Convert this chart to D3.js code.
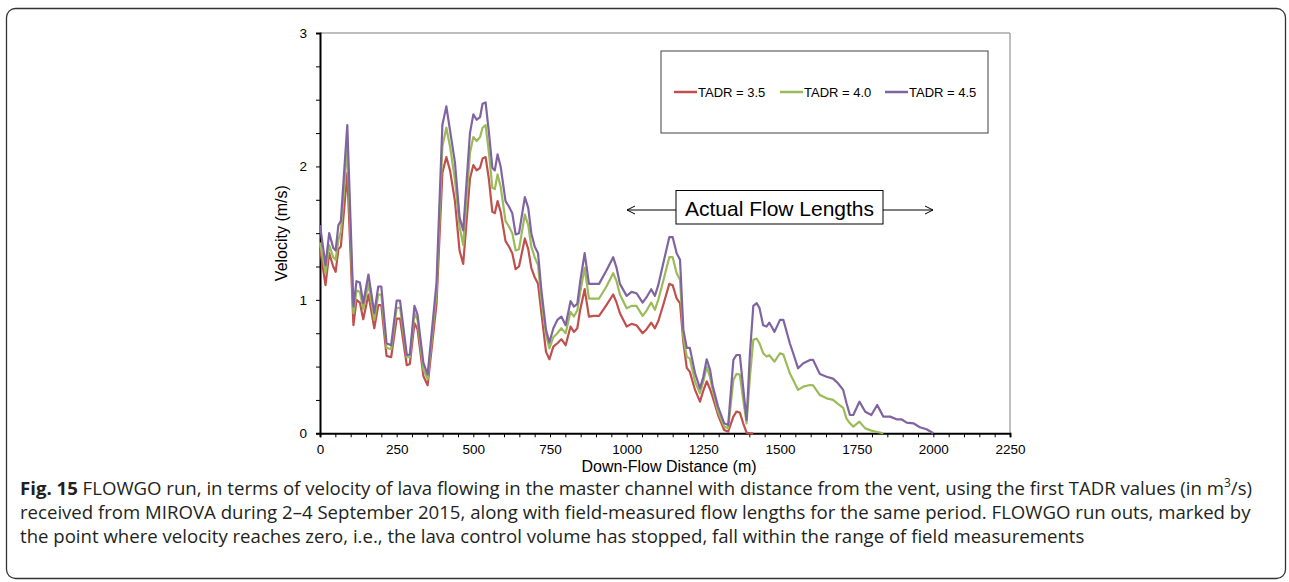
<!DOCTYPE html>
<html>
<head>
<meta charset="utf-8">
<script src="https://cdn.jsdelivr.net/npm/d3@7/dist/d3.min.js"></script>
<style>
  body { margin: 0; background: #fff; }
  svg { display: block; }
</style>
</head>
<body>
<svg id="chart" width="1289" height="582"></svg>
<script>
// distance down the master channel (m)
const distance = [
  0, 18, 30, 43, 51, 60, 68, 89, 109, 119, 130, 141, 158, 177, 190, 200, 217, 232, 250, 261,
  283, 293, 308, 318, 337, 351, 380, 399, 412, 424, 440, 455, 467, 489, 500, 511, 522, 530, 540, 551,
  562, 570, 579, 589, 605, 616, 627, 638, 649, 668, 679, 689, 700, 711, 722, 737, 748, 761, 774, 787,
  801, 817, 828, 839, 848, 863, 877, 893, 910, 934, 956, 967, 978, 1000, 1016, 1032, 1052, 1065, 1080, 1092,
  1103, 1119, 1139, 1150, 1163, 1174, 1185, 1196, 1206, 1223, 1239, 1250, 1261, 1272, 1280, 1298, 1318, 1331, 1348, 1358,
  1369, 1380, 1391, 1402, 1413, 1424, 1433, 1445, 1456, 1465, 1482, 1500, 1511, 1532, 1543, 1559, 1576, 1598, 1608, 1630,
  1652, 1673, 1689, 1706, 1717, 1728, 1739, 1759, 1778, 1798, 1817, 1837, 1859, 1880, 1896, 1913, 1935, 1956, 1978, 2000
];

// velocity (m/s) for each TADR run, null once the flow has stopped
const tadr35 = [
  1.39, 1.11, 1.35, 1.25, 1.21, 1.38, 1.40, 1.95, 0.81, 1.00, 0.98, 0.855, 1.04, 0.787, 0.96, 0.96, 0.58, 0.57, 0.86, 0.86,
  0.51, 0.52, 0.825, 0.78, 0.43, 0.36, 0.97, 1.95, 2.07, 1.97, 1.74, 1.37, 1.27, 1.91, 2.01, 1.97, 1.99, 2.06, 2.07, 1.90,
  1.66, 1.65, 1.74, 1.66, 1.44, 1.40, 1.35, 1.23, 1.25, 1.46, 1.38, 1.24, 1.17, 1.12, 0.90, 0.61, 0.555, 0.65, 0.675, 0.705,
  0.66, 0.80, 0.76, 0.787, 0.92, 1.08, 0.875, 0.88, 0.88, 0.96, 1.04, 0.98, 0.90, 0.80, 0.82, 0.81, 0.75, 0.78, 0.83, 0.787,
  0.84, 0.96, 1.12, 1.11, 1.01, 0.975, 0.68, 0.49, 0.46, 0.325, 0.237, 0.32, 0.39, 0.33, 0.275, 0.137, 0.025, 0.012, 0.125, 0.162,
  0.155, 0.075, 0.005, 0, 0, null, null, null, null, null, null, null, null, null, null, null, null, null, null, null,
  null, null, null, null, null, null, null, null, null, null, null, null, null, null, null, null, null, null, null, null
];
const tadr40 = [
  1.43, 1.20, 1.41, 1.32, 1.30, 1.45, 1.51, 2.15, 0.90, 1.07, 1.06, 0.93, 1.12, 0.85, 1.04, 1.04, 0.64, 0.63, 0.94, 0.94,
  0.57, 0.57, 0.90, 0.85, 0.48, 0.405, 1.06, 2.15, 2.29, 2.15, 1.90, 1.55, 1.41, 2.10, 2.22, 2.19, 2.22, 2.29, 2.31, 2.10,
  1.84, 1.83, 1.94, 1.85, 1.59, 1.55, 1.50, 1.37, 1.38, 1.64, 1.56, 1.40, 1.32, 1.26, 1.00, 0.737, 0.637, 0.72, 0.75, 0.787,
  0.75, 0.91, 0.875, 0.92, 1.05, 1.24, 1.01, 1.01, 1.01, 1.10, 1.20, 1.14, 1.04, 0.937, 0.955, 0.955, 0.88, 0.92, 0.98, 0.925,
  1.00, 1.14, 1.32, 1.32, 1.20, 1.15, 0.72, 0.575, 0.56, 0.387, 0.30, 0.39, 0.50, 0.42, 0.33, 0.162, 0.05, 0.037, 0.40, 0.445,
  0.44, 0.25, 0.075, 0.424, 0.70, 0.71, 0.675, 0.60, 0.575, 0.585, 0.537, 0.60, 0.59, 0.45, 0.40, 0.325, 0.35, 0.362, 0.36, 0.287,
  0.262, 0.25, 0.22, 0.19, 0.11, 0.075, 0.05, 0.087, 0.037, 0.02, 0.01, 0, null, null, null, null, null, null, null, null
];
const tadr45 = [
  1.56, 1.26, 1.50, 1.39, 1.37, 1.56, 1.59, 2.31, 0.95, 1.14, 1.13, 0.975, 1.19, 0.90, 1.10, 1.10, 0.675, 0.66, 0.995, 0.995,
  0.587, 0.59, 0.955, 0.89, 0.53, 0.44, 1.13, 2.31, 2.45, 2.27, 2.03, 1.62, 1.52, 2.25, 2.39, 2.35, 2.37, 2.47, 2.48, 2.25,
  1.99, 1.97, 2.09, 2.00, 1.74, 1.70, 1.65, 1.49, 1.50, 1.77, 1.69, 1.50, 1.40, 1.35, 1.07, 0.775, 0.68, 0.787, 0.85, 0.875,
  0.81, 0.99, 0.95, 0.97, 1.13, 1.35, 1.12, 1.12, 1.12, 1.22, 1.32, 1.24, 1.12, 1.03, 1.06, 1.05, 0.98, 1.02, 1.08, 1.03,
  1.11, 1.27, 1.47, 1.47, 1.35, 1.30, 0.775, 0.64, 0.64, 0.45, 0.337, 0.424, 0.555, 0.475, 0.36, 0.20, 0.075, 0.062, 0.55, 0.587,
  0.587, 0.34, 0.10, 0.60, 0.955, 0.975, 0.94, 0.81, 0.80, 0.83, 0.76, 0.85, 0.85, 0.675, 0.60, 0.487, 0.525, 0.55, 0.55, 0.445,
  0.424, 0.41, 0.375, 0.325, 0.225, 0.137, 0.137, 0.237, 0.162, 0.137, 0.212, 0.125, 0.125, 0.105, 0.105, 0.08, 0.075, 0.045, 0.03, 0
];

const seriesNames = ["TADR = 3.5", "TADR = 4.0", "TADR = 4.5"];
const seriesValues = [tadr35, tadr40, tadr45];
const seriesColors = ["#c0504d", "#9bbb59", "#8064a2"];

const xTickValues = d3.range(0, 2251, 50);
const yTickValues = d3.range(0, 3.01, 0.25);

const captionLines = [
  [["Fig. 15", "bold"], [" FLOWGO run, in terms of velocity of lava flowing in the master channel with distance from the vent, using the first TADR values (in m", "normal"], ["3", "sup"], ["/s)", "normal"]],
  [["received from MIROVA during 2\u20134 September 2015, along with field-measured flow lengths for the same period. FLOWGO run outs, marked by", "normal"]],
  [["the point where velocity reaches zero, i.e., the lava control volume has stopped, fall within the range of field measurements", "normal"]]
];

const svg = d3.select("#chart");
const plotLeft = 320, plotRight = 1010, plotTop = 33, plotBottom = 433.3;

// outer figure frame
svg.append("rect")
  .attr("x", 6.5).attr("y", 8.5)
  .attr("width", 1279).attr("height", 570)
  .attr("rx", 9)
  .attr("fill", "none")
  .attr("stroke", "#333")
  .attr("stroke-width", 1.3);

const x = d3.scaleLinear().domain([0, 2250]).range([plotLeft, plotRight]);
const y = d3.scaleLinear().domain([0, 3]).range([plotBottom, plotTop]);

// plot area border (top / right)
svg.append("path")
  .attr("d", `M${plotLeft},${plotTop}H${plotRight}V${plotBottom}`)
  .attr("fill", "none")
  .attr("stroke", "#7f7f7f")
  .attr("stroke-width", 1);

const tickFont = "'Liberation Sans', Arial, sans-serif";

const xAxis = svg.append("g")
  .attr("transform", `translate(0,${plotBottom})`)
  .call(
    d3.axisBottom(x)
      .tickValues(xTickValues)
      .tickSize(4)
      .tickPadding(7)
      .tickFormat((d) => (d % 250 === 0 ? d : ""))
  );

const yAxis = svg.append("g")
  .attr("transform", `translate(${plotLeft},0)`)
  .call(
    d3.axisLeft(y)
      .tickValues(yTickValues)
      .tickSize(4)
      .tickPadding(9)
      .tickFormat((d) => (Number.isInteger(d) ? d : ""))
  );

[xAxis, yAxis].forEach((g) => {
  g.select(".domain").attr("stroke", "#000").attr("stroke-width", 2);
  g.selectAll(".tick line").attr("stroke", "#000").attr("stroke-width", 1);
  g.selectAll(".tick text")
    .attr("fill", "#000")
    .style("font-family", tickFont)
    .style("font-size", "13.5px");
});

// axis titles
svg.append("text")
  .attr("x", 669)
  .attr("y", 471.5)
  .attr("text-anchor", "middle")
  .style("font-family", tickFont)
  .style("font-size", "16px")
  .text("Down-Flow Distance (m)");

svg.append("text")
  .attr("transform", `translate(287,${(plotTop + plotBottom) / 2}) rotate(-90)`)
  .attr("text-anchor", "middle")
  .style("font-family", tickFont)
  .style("font-size", "16px")
  .text("Velocity (m/s)");

// lines
const line = d3.line()
  .defined((d) => d[1] != null)
  .x((d) => x(d[0]))
  .y((d) => y(d[1]));

seriesValues.forEach((vals, i) => {
  svg.append("path")
    .datum(distance.map((d, j) => [d, vals[j]]))
    .attr("fill", "none")
    .attr("stroke", seriesColors[i])
    .attr("stroke-width", 2.2)
    .attr("stroke-linejoin", "round")
    .attr("d", line);
});

// legend
const legend = svg.append("g");
legend.append("rect")
  .attr("x", 661).attr("y", 51)
  .attr("width", 327).attr("height", 82)
  .attr("fill", "#fff")
  .attr("stroke", "#404040")
  .attr("stroke-width", 1);

const legendX = [674, 780, 885];
seriesNames.forEach((name, i) => {
  legend.append("line")
    .attr("x1", legendX[i]).attr("x2", legendX[i] + 23)
    .attr("y1", 92).attr("y2", 92)
    .attr("stroke", seriesColors[i])
    .attr("stroke-width", 2.5);
  legend.append("text")
    .attr("x", legendX[i] + 24)
    .attr("y", 96.5)
    .style("font-family", tickFont)
    .style("font-size", "13px")
    .text(name);
});

// "Actual Flow Lengths" annotation
const note = svg.append("g");
note.append("rect")
  .attr("x", 676).attr("y", 190.5)
  .attr("width", 207).attr("height", 33.5)
  .attr("fill", "#fff")
  .attr("stroke", "#000")
  .attr("stroke-width", 1);
note.append("text")
  .attr("x", 779.5)
  .attr("y", 215.5)
  .attr("text-anchor", "middle")
  .style("font-family", tickFont)
  .style("font-size", "21px")
  .text("Actual Flow Lengths");

const arrowY = 210;
note.append("path")
  .attr("d", `M676,${arrowY}H627M635,${arrowY - 4}L627,${arrowY}L635,${arrowY + 4}`)
  .attr("fill", "none").attr("stroke", "#000").attr("stroke-width", 1);
note.append("path")
  .attr("d", `M883,${arrowY}H933M925,${arrowY - 4}L933,${arrowY}L925,${arrowY + 4}`)
  .attr("fill", "none").attr("stroke", "#000").attr("stroke-width", 1);

// caption
const caption = svg.append("text")
  .attr("x", 20)
  .style("font-family", "'Open Sans', 'Noto Sans', sans-serif")
  .style("font-size", "18.6px")
  .attr("fill", "#231f20");

const captionY = [495, 519, 543];
captionLines.forEach((parts, i) => {
  parts.forEach((p, k) => {
    const t = caption.append("tspan").text(p[0]);
    if (k === 0) t.attr("x", 20).attr("y", captionY[i]);
    if (p[1] === "bold") t.attr("font-weight", "bold");
    if (p[1] === "sup") t.attr("dy", -8).style("font-size", "12px");
    if (k > 0 && parts[k - 1][1] === "sup") t.attr("dy", 8);
  });
});
</script>
</body>
</html>
